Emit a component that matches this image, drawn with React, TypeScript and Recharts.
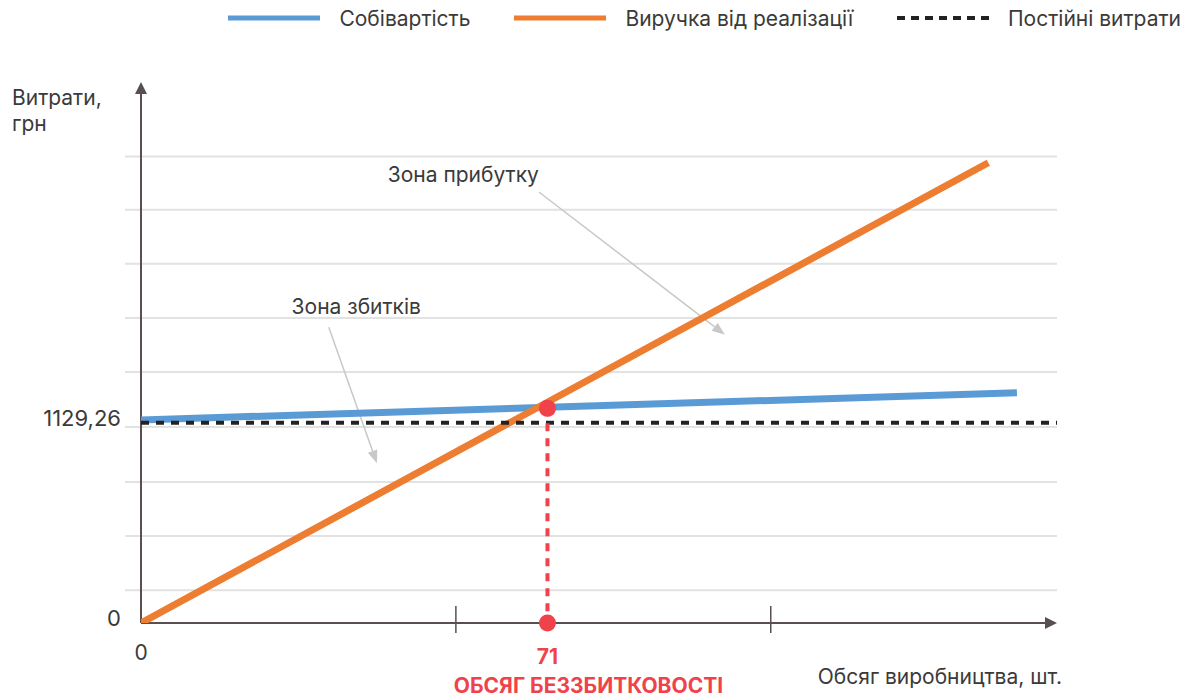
import React from 'react';
import { LineChart, Line, XAxis, YAxis, ReferenceLine, ReferenceDot, Legend } from 'recharts';

// volumes (шт.) and costs (грн)
const costData = [
    { q: 0, v: 1145 },
    { q: 153, v: 1298 },
];
const revenueData = [
    { q: 0, v: 0 },
    { q: 148, v: 2595 },
];
const fixedData = [
    { q: 0, v: 1129.26 },
    { q: 160, v: 1129.26 },
];
const breakEvenQ = 71;
const breakEvenV = 1210;
const yTicks = [0, 1129.26];
const xTicks = [0, 55, 71, 110];
const gridValues = [185, 490, 795, 1105, 1415, 1720, 2025, 2330, 2630];
const zoneLabels = [
    { text: 'Зона прибутку', x: 56.3, y: 2526 },
    { text: 'Зона збитків', x: 37.6, y: 1782 },
];
const zoneArrows = [
    { from: { x: 69.5, y: 2430 }, to: { x: 102, y: 1625 } },
    { from: { x: 32.8, y: 1668 }, to: { x: 41.2, y: 900 } },
];

const AXIS = '#5a4f50';
const BLUE = '#5b9bd5';
const ORANGE = '#ed7d31';
const RED = '#f0424a';
const FONT = 'Inter, Roboto, "Noto Sans", sans-serif';
const TXT = '#3a3a3a';
const FS = 21;

const YTick = (props: any) => {
    const { x, y, payload } = props;
    return (
        <text x={x - 20} y={y - 5} textAnchor="end" dominantBaseline="central" fontSize={22} fill={TXT} fontFamily={FONT}>
            {String(payload.value).replace('.', ',')}
        </text>
    );
};

const XTick = (props: any) => {
    const { x, y, payload } = props;
    if (payload.value === 0) {
        return (
            <text x={x} y={y + 29} textAnchor="middle" dominantBaseline="central" fontSize={FS} fill={TXT} fontFamily={FONT}>
                0
            </text>
        );
    }
    if (payload.value === breakEvenQ) {
        return (
            <g fontFamily={FONT} fontWeight="bold" fill={RED} textAnchor="middle">
                <text x={x} y={y + 33} dominantBaseline="central" fontSize={FS}>
                    {payload.value}
                </text>
                <text x={x + 41} y={y + 62} dominantBaseline="central" fontSize={21}>
                    ОБСЯГ БЕЗЗБИТКОВОСТІ
                </text>
            </g>
        );
    }
    return <line x1={x} x2={x} y1={y - 17} y2={y + 10} stroke={AXIS} strokeWidth={1.5} />;
};

const LegendContent = () => {
    const items = [
        { name: 'Собівартість', color: BLUE, dashed: false },
        { name: 'Виручка від реалізації', color: ORANGE, dashed: false },
        { name: 'Постійні витрати', color: '#222', dashed: true },
    ];
    return (
        <div style={{ display: 'flex', justifyContent: 'flex-end', alignItems: 'center', height: 36, paddingRight: 21, fontFamily: FONT, fontSize: FS, color: TXT }}>
            {items.map((it) => (
                <div key={it.name} style={{ display: 'flex', alignItems: 'center', marginLeft: 44 }}>
                    <svg width={92} height={8} style={{ marginRight: 19 }}>
                        <line
                            x1={0}
                            x2={92}
                            y1={4}
                            y2={4}
                            stroke={it.color}
                            strokeWidth={it.dashed ? 4 : 5}
                            strokeDasharray={it.dashed ? '8 6' : undefined}
                        />
                    </svg>
                    <span>{it.name}</span>
                </div>
            ))}
        </div>
    );
};

const axisArrow = (dir: 'up' | 'right') => (props: any) => {
    const { x1, y1, x2, y2 } = props;
    if (dir === 'up') {
        const top = Math.min(y1, y2);
        const bottom = Math.max(y1, y2);
        return (
            <g>
                <line x1={x1} x2={x1} y1={bottom} y2={top + 10} stroke={AXIS} strokeWidth={2} />
                <polygon points={`${x1},${top} ${x1 - 6},${top + 12} ${x1 + 6},${top + 12}`} fill={AXIS} />
            </g>
        );
    }
    const left = Math.min(x1, x2);
    const right = Math.max(x1, x2);
    return (
        <g>
            <line x1={left} x2={right - 10} y1={y1} y2={y1} stroke={AXIS} strokeWidth={2} />
            <polygon points={`${right},${y1} ${right - 12},${y1 - 6} ${right - 12},${y1 + 6}`} fill={AXIS} />
        </g>
    );
};

const gridShape = (props: any) => {
    const { x1, x2, y1 } = props;
    return <line x1={Math.min(x1, x2) - 16} x2={Math.max(x1, x2)} y1={y1} y2={y1} stroke="#e2e2e2" strokeWidth={2} />;
};

const pointerShape = (props: any) => {
    const { x1, y1, x2, y2 } = props;
    const ang = Math.atan2(y2 - y1, x2 - x1);
    const len = 13;
    const w = 5;
    const bx = x2 - len * Math.cos(ang);
    const by = y2 - len * Math.sin(ang);
    const px = -Math.sin(ang) * w;
    const py = Math.cos(ang) * w;
    return (
        <g>
            <line x1={x1} y1={y1} x2={bx} y2={by} stroke="#c8c8c8" strokeWidth={1.5} />
            <polygon points={`${x2},${y2} ${bx + px},${by + py} ${bx - px},${by - py}`} fill="#c8c8c8" />
        </g>
    );
};

const zoneText = (text: string) => (props: any) => {
    const { cx, cy } = props;
    return (
        <text x={cx} y={cy} textAnchor="middle" dominantBaseline="central" fontSize={FS} fill={TXT} fontFamily={FONT}>
            {text}
        </text>
    );
};

export default function App() {
    return (
        <div style={{ position: 'absolute', left: 0, top: 0, width: 1202, height: 699, background: '#fff' }}>
            <LineChart width={1202} height={699} margin={{ top: 46, right: 145, left: 0, bottom: 6 }}>
                <Legend verticalAlign="top" align="right" content={<LegendContent />} wrapperStyle={{ top: 0, left: 0, width: 1202, height: 36 }} />
                <XAxis
                    type="number"
                    dataKey="q"
                    domain={[0, 160]}
                    ticks={xTicks}
                    interval={0}
                    axisLine={false}
                    tickLine={false}
                    tickSize={0}
                    tickMargin={0}
                    height={70}
                    tick={<XTick />}
                    allowDataOverflow
                    label={(p: any) => {
                        const vb = p.viewBox;
                        return (
                            <text x={vb.x + vb.width + 5} y={vb.y + 53} textAnchor="end" dominantBaseline="central" fontSize={FS} fill={TXT} fontFamily={FONT}>
                                Обсяг виробництва, шт.
                            </text>
                        );
                    }}
                />
                <YAxis
                    type="number"
                    domain={[0, 3050]}
                    ticks={yTicks}
                    interval={0}
                    width={141}
                    axisLine={false}
                    tickLine={false}
                    tickSize={0}
                    tickMargin={0}
                    tick={<YTick />}
                    allowDataOverflow
                    label={(p: any) => {
                        const vb = p.viewBox;
                        return (
                            <g fontSize={FS} fill={TXT} fontFamily={FONT}>
                                <text x={12} y={vb.y + 15} dominantBaseline="central">Витрати,</text>
                                <text x={12} y={vb.y + 41} dominantBaseline="central">грн</text>
                            </g>
                        );
                    }}
                />
                {gridValues.map((g) => (
                    <ReferenceLine key={g} y={g} shape={gridShape} />
                ))}
                <ReferenceLine x={0} shape={axisArrow('up')} />
                <ReferenceLine y={0} shape={axisArrow('right')} />
                {zoneArrows.map((a, i) => (
                    <ReferenceLine key={i} segment={[a.from, a.to]} shape={pointerShape} ifOverflow="visible" />
                ))}
                {zoneLabels.map((z) => (
                    <ReferenceDot key={z.text} x={z.x} y={z.y} r={0} shape={zoneText(z.text)} ifOverflow="visible" />
                ))}
                <Line data={costData} dataKey="v" name="Собівартість" stroke={BLUE} strokeWidth={7} dot={false} activeDot={false} isAnimationActive={false} />
                <Line data={revenueData} dataKey="v" name="Виручка від реалізації" stroke={ORANGE} strokeWidth={7} dot={false} activeDot={false} isAnimationActive={false} />
                <Line data={fixedData} dataKey="v" name="Постійні витрати" stroke="#222" strokeWidth={4} strokeDasharray="8 7" dot={false} activeDot={false} isAnimationActive={false} />
                <ReferenceLine
                    segment={[
                        { x: breakEvenQ, y: breakEvenV },
                        { x: breakEvenQ, y: 0 },
                    ]}
                    stroke={RED}
                    strokeWidth={4}
                    strokeDasharray="8 7"
                />
                <ReferenceDot x={breakEvenQ} y={breakEvenV} r={8.5} fill={RED} stroke="none" ifOverflow="visible" />
                <ReferenceDot x={breakEvenQ} y={0} r={8.5} fill={RED} stroke="none" ifOverflow="visible" />
            </LineChart>
        </div>
    );
}
